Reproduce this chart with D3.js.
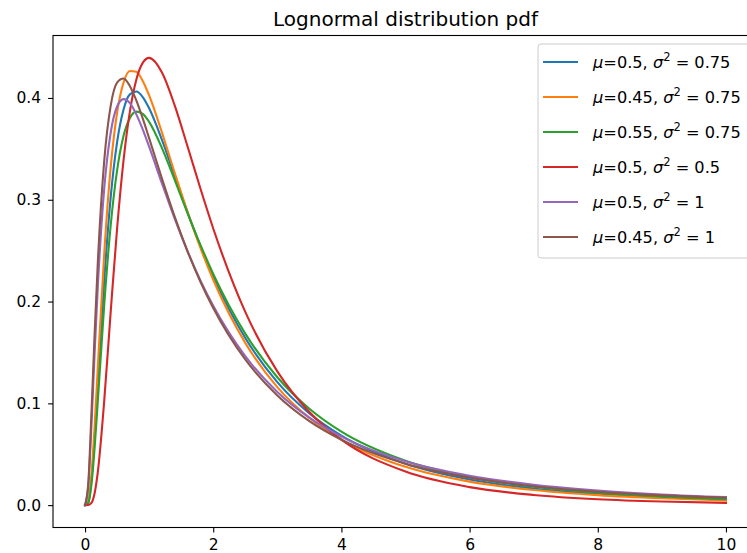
<!DOCTYPE html>
<html>
<head>
<meta charset="utf-8">
<script src="https://cdn.jsdelivr.net/npm/d3@7"></script>
<style>
    html, body { margin: 0; padding: 0; background: #ffffff; }
    svg { display: block; font-family: "DejaVu Sans", sans-serif; }
    .legend-label { font-size: 16.2px; fill: #000000; }
</style>
</head>
<body>
<div id="chart"></div>
<script>
const xSamples = [0, 0.05, 0.1, 0.15, 0.2, 0.3, 0.4, 0.5, 0.6, 0.7, 0.8, 0.9, 1.0, 1.2, 1.4, 1.6, 1.8, 2.0, 2.5, 3, 3.5, 4, 5, 6, 7, 8, 9, 10];

const muLabels = ["0.5", "0.45", "0.55", "0.5", "0.5", "0.45"];
const sigma2Labels = ["0.75", "0.75", "0.75", "0.5", "1", "1"];

const blueValues   = [0, 0.0027, 0.0245, 0.0666, 0.1186, 0.2216, 0.3024, 0.3566, 0.3885, 0.4035, 0.4063, 0.4009, 0.3899, 0.3589, 0.3232, 0.2877, 0.2546, 0.2247, 0.1642, 0.1209, 0.0902, 0.0682, 0.0406, 0.0252, 0.0163, 0.0109, 0.0075, 0.0053];
const orangeValues = [0, 0.0034, 0.0295, 0.0780, 0.1363, 0.2479, 0.3318, 0.3855, 0.4149, 0.4265, 0.4257, 0.4167, 0.4025, 0.3660, 0.3262, 0.2878, 0.2527, 0.2214, 0.1594, 0.1160, 0.0857, 0.0642, 0.0376, 0.0231, 0.0148, 0.0098, 0.0067, 0.0047];
const greenValues  = [0, 0.0021, 0.0203, 0.0567, 0.1029, 0.1975, 0.2747, 0.3288, 0.3626, 0.3804, 0.3866, 0.3844, 0.3765, 0.3508, 0.3192, 0.2867, 0.2557, 0.2272, 0.1685, 0.1256, 0.0947, 0.0722, 0.0436, 0.0275, 0.0180, 0.0121, 0.0084, 0.0059];
const redValues    = [0, 0.0001, 0.0022, 0.0120, 0.0330, 0.1031, 0.1898, 0.2718, 0.3385, 0.3869, 0.4180, 0.4345, 0.4394, 0.4250, 0.3924, 0.3523, 0.3110, 0.2718, 0.1898, 0.1314, 0.0915, 0.0643, 0.0330, 0.0177, 0.0100, 0.0058, 0.0035, 0.0022];
const purpleValues = [0, 0.0177, 0.0786, 0.1503, 0.2156, 0.3114, 0.3658, 0.3916, 0.3989, 0.3949, 0.3839, 0.3691, 0.3521, 0.3161, 0.2812, 0.2492, 0.2208, 0.1958, 0.1463, 0.1112, 0.0859, 0.0673, 0.0431, 0.0289, 0.0200, 0.0143, 0.0105, 0.0079];
const brownValues  = [0, 0.0211, 0.0903, 0.1693, 0.2393, 0.3387, 0.3922, 0.4151, 0.4191, 0.4116, 0.3976, 0.3799, 0.3605, 0.3208, 0.2831, 0.2493, 0.2195, 0.1937, 0.1431, 0.1078, 0.0826, 0.0643, 0.0407, 0.0270, 0.0186, 0.0132, 0.0096, 0.0072];

const seriesPaint = ["#1f77b4", "#ff7f0e", "#2ca02c", "#d62728", "#9467bd", "#8c564b"];

const xTicks = [0, 2, 4, 6, 8, 10];
const yTicks = [0, 0.1, 0.2, 0.3, 0.4];

const chartTitle = "Lognormal distribution pdf";

const box = {
    width: 747,
    height: 553,
    left: 53,
    right: 758,
    top: 35.5,
    bottom: 527.5
};

const allSeries = [blueValues, orangeValues, greenValues, redValues, purpleValues, brownValues]
    .map((values, i) => ({
        color: seriesPaint[i],
        mu: muLabels[i],
        sigma2: sigma2Labels[i],
        points: xSamples.map((x, j) => ({ x, y: values[j] }))
    }));

const svg = d3.select("#chart")
    .append("svg")
    .attr("width", box.width)
    .attr("height", box.height);

// matplotlib pads the data range by 5% on each side
const xExtent = d3.extent(xSamples);
const xPad = (xExtent[1] - xExtent[0]) * 0.05;
const yMax = d3.max(allSeries, s => d3.max(s.points, p => p.y));
const yPad = yMax * 0.05;

const x = d3.scaleLinear()
    .domain([xExtent[0] - xPad, xExtent[1] + xPad])
    .range([box.left, box.right]);

const y = d3.scaleLinear()
    .domain([-yPad, yMax + yPad])
    .range([box.bottom, box.top]);

svg.append("defs")
    .append("clipPath")
    .attr("id", "plot-clip")
    .append("rect")
    .attr("x", box.left)
    .attr("y", box.top)
    .attr("width", box.right - box.left)
    .attr("height", box.bottom - box.top);

const line = d3.line()
    .x(d => x(d.x))
    .y(d => y(d.y))
    .curve(d3.curveMonotoneX);

svg.append("g")
    .attr("clip-path", "url(#plot-clip)")
    .selectAll("path")
    .data(allSeries)
    .join("path")
    .attr("fill", "none")
    .attr("stroke", d => d.color)
    .attr("stroke-width", 2.1)
    .attr("stroke-linejoin", "round")
    .attr("stroke-linecap", "square")
    .attr("d", d => line(d.points));

// axes with outward ticks, like the matplotlib defaults
const xAxis = svg.append("g")
    .attr("transform", `translate(0,${box.bottom})`)
    .call(d3.axisBottom(x).tickValues(xTicks).tickFormat(d3.format("d")).tickSize(4.9).tickPadding(7));

const yAxis = svg.append("g")
    .attr("transform", `translate(${box.left},0)`)
    .call(d3.axisLeft(y).tickValues(yTicks).tickFormat(d3.format(".1f")).tickSize(4.9).tickPadding(7));

for (const axis of [xAxis, yAxis]) {
    axis.attr("font-family", "DejaVu Sans").attr("font-size", 15.5);
    axis.select(".domain").remove();
    axis.selectAll(".tick line").attr("stroke", "#000000").attr("stroke-width", 1.1);
    axis.selectAll(".tick text").attr("fill", "#000000");
}

svg.append("rect")
    .attr("x", box.left)
    .attr("y", box.top)
    .attr("width", box.right - box.left)
    .attr("height", box.bottom - box.top)
    .attr("fill", "none")
    .attr("stroke", "#000000")
    .attr("stroke-width", 1.1);

svg.append("text")
    .attr("x", (box.left + box.right) / 2)
    .attr("y", box.top - 9.5)
    .attr("text-anchor", "middle")
    .attr("font-size", 20)
    .text(chartTitle);

// legend in the upper right corner
const legend = svg.append("g");
const rowStep = 35;
const legendTop = 44;

legend.append("rect")
    .attr("x", 538)
    .attr("y", legendTop)
    .attr("width", 212)
    .attr("height", 214)
    .attr("rx", 3)
    .attr("fill", "#ffffff")
    .attr("fill-opacity", 0.8)
    .attr("stroke", "#cccccc")
    .attr("stroke-width", 1);

const rows = legend.selectAll(".legend-row")
    .data(allSeries)
    .join("g")
    .attr("class", "legend-row")
    .attr("transform", (d, i) => `translate(0,${legendTop + 18 + i * rowStep})`);

rows.append("line")
    .attr("x1", 543)
    .attr("x2", 578)
    .attr("stroke", d => d.color)
    .attr("stroke-width", 2.1);

const labels = rows.append("text")
    .attr("class", "legend-label")
    .attr("x", 593)
    .attr("y", 6);

labels.append("tspan").attr("font-style", "italic").text("μ");
labels.append("tspan").text(d => `=${d.mu}, `);
labels.append("tspan").attr("font-style", "italic").text("σ");
labels.append("tspan").attr("dy", -7).attr("font-size", 11.5).text("2");
labels.append("tspan").attr("dy", 7).text(d => ` = ${d.sigma2}`);
</script>
</body>
</html>
